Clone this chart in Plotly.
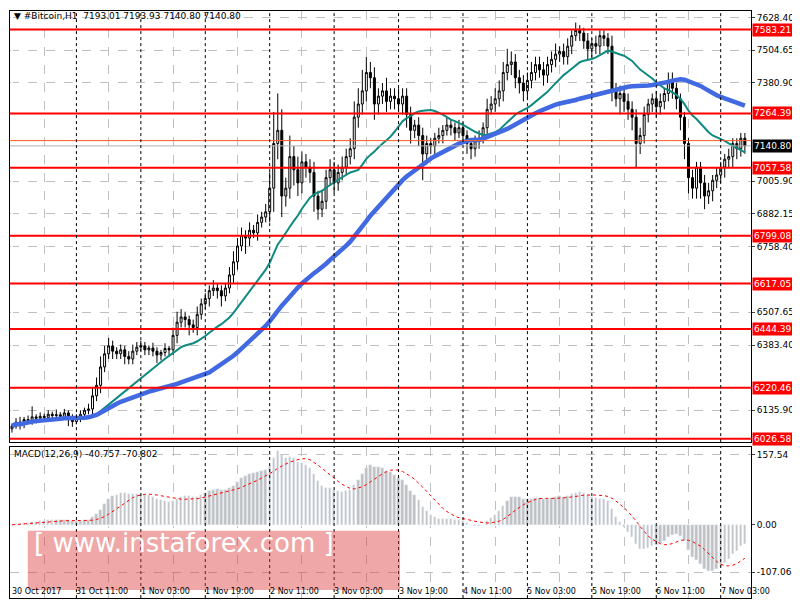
import numpy as np
import pandas as pd
import plotly.graph_objects as go
from plotly.subplots import make_subplots

# hourly closes, 30 Oct 2017 19:00 onwards
closes = [
    6075, 6090, 6082, 6100, 6095, 6110, 6105, 6112,
    6108, 6120, 6115, 6118, 6112, 6125, 6100, 6092,
    6110, 6120, 6135, 6140, 6190, 6230, 6300, 6350,
    6380, 6360, 6350, 6365, 6340, 6330, 6360, 6375,
    6380, 6365, 6372, 6360, 6345, 6355, 6370, 6365,
    6420, 6470, 6490, 6480, 6460, 6450, 6500, 6540,
    6560, 6590, 6600, 6590, 6570, 6600, 6650, 6700,
    6760, 6800, 6790, 6820, 6810, 6850, 6870, 6890,
    6980, 7150, 7200, 6950, 6980, 7100, 7050, 7000,
    7080, 7060, 7040, 6950, 6900, 6930, 7020, 7050,
    7000, 7040, 7060, 7100, 7130, 7250, 7300, 7350,
    7420, 7400, 7300, 7330, 7350, 7310, 7330, 7320,
    7300, 7330, 7260, 7200, 7220, 7180, 7110, 7150,
    7140, 7170, 7180, 7200, 7220, 7210, 7190, 7210,
    7180, 7150, 7130, 7160, 7170, 7210, 7280, 7300,
    7320, 7350, 7420, 7450, 7460, 7400, 7380, 7350,
    7390, 7420, 7450, 7430, 7410, 7450, 7470, 7490,
    7500, 7480, 7520, 7560, 7580, 7570, 7540, 7510,
    7530, 7520, 7560, 7550, 7520, 7350, 7320, 7340,
    7310, 7280, 7250, 7150, 7180, 7260, 7300, 7320,
    7290, 7310, 7340, 7390, 7360, 7320, 7250, 7150,
    7020, 6980, 7060, 7000, 6950, 6970, 7010, 7030,
    7060, 7090, 7100, 7150, 7130, 7170, 7140.8,
]
wick_up = [
    10, 15, 20, 10, 15, 40, 10, 15,
    10, 15, 10, 20, 10, 15, 10, 20,
    10, 15, 10, 20, 30, 30, 40, 30,
    30, 20, 15, 20, 15, 20, 25, 20,
    20, 15, 10, 20, 15, 10, 20, 10,
    30, 40, 30, 20, 15, 20, 30, 20,
    20, 20, 30, 15, 20, 20, 30, 40,
    30, 30, 20, 30, 20, 30, 20, 30,
    60, 120, 140, 80, 40, 80, 40, 50,
    40, 30, 30, 40, 20, 40, 30, 40,
    30, 30, 40, 30, 40, 60, 60, 80,
    60, 40, 40, 30, 30, 50, 30, 30,
    40, 30, 30, 30, 20, 30, 30, 30,
    20, 20, 30, 20, 30, 20, 20, 30,
    20, 20, 20, 20, 30, 20, 40, 30,
    40, 40, 40, 60, 40, 30, 30, 30,
    30, 40, 30, 30, 30, 30, 30, 40,
    20, 30, 30, 20, 30, 20, 20, 30,
    20, 30, 20, 20, 20, 40, 30, 30,
    20, 30, 30, 30, 30, 30, 20, 20,
    30, 30, 20, 30, 30, 20, 20, 20,
    20, 30, 20, 20, 30, 30, 20, 30,
    20, 20, 30, 20, 20, 20, 20,
]
wick_dn = [
    15, 10, 20, 15, 10, 15, 20, 10,
    15, 10, 20, 10, 15, 10, 25, 20,
    10, 20, 10, 15, 20, 20, 30, 20,
    20, 30, 20, 20, 30, 20, 20, 15,
    15, 20, 20, 20, 30, 20, 15, 20,
    20, 30, 20, 30, 40, 20, 30, 20,
    20, 30, 20, 30, 40, 20, 20, 30,
    30, 20, 60, 30, 20, 30, 20, 20,
    40, 90, 60, 80, 40, 40, 60, 50,
    40, 40, 40, 60, 40, 30, 30, 30,
    40, 30, 30, 30, 30, 40, 40, 40,
    40, 40, 60, 40, 30, 40, 30, 40,
    30, 40, 50, 50, 30, 40, 100, 40,
    30, 30, 20, 30, 20, 30, 30, 20,
    30, 40, 40, 30, 30, 20, 30, 20,
    30, 30, 40, 30, 40, 40, 40, 40,
    30, 30, 30, 30, 40, 30, 30, 30,
    30, 30, 30, 30, 20, 30, 30, 40,
    30, 30, 30, 30, 30, 40, 30, 60,
    40, 40, 50, 90, 40, 30, 30, 30,
    40, 30, 30, 30, 40, 40, 50, 60,
    60, 40, 40, 60, 50, 30, 40, 30,
    30, 40, 30, 40, 40, 30, 30,
]
levels = [7583.21, 7264.39, 7057.58, 6799.08, 6617.05, 6444.39, 6220.46, 6026.58]
price_ticks = [7628.40, 7504.65, 7380.90, 7005.90, 6882.15, 6758.40, 6507.65, 6383.40, 6135.90]
date_labels = ["30 Oct 2017", "31 Oct 11:00", "1 Nov 03:00", "1 Nov 19:00", "2 Nov 11:00",
               "3 Nov 03:00", "3 Nov 19:00", "4 Nov 11:00", "5 Nov 03:00", "5 Nov 19:00",
               "6 Nov 11:00", "7 Nov 03:00"]

c = pd.Series(closes, dtype=float)
o = c.shift(1).fillna(c.iloc[0] - 10)
hi = np.maximum(o, c) + np.array(wick_up)
lo = np.minimum(o, c) - np.array(wick_dn)
x = np.arange(len(c))

ma_fast = c.rolling(20, min_periods=1).mean()
ma_slow = c.rolling(50, min_periods=1).mean()
macd = c.ewm(span=12, adjust=False).mean() - c.ewm(span=26, adjust=False).mean()
signal = macd.rolling(9, min_periods=1).mean()

FONT = "DejaVu Sans"
fig = make_subplots(rows=2, cols=1, shared_xaxes=True, vertical_spacing=0.0)
fig.add_trace(go.Candlestick(x=x, open=o, high=hi, low=lo, close=c,
    increasing=dict(fillcolor="white", line=dict(color="black", width=1)),
    decreasing=dict(fillcolor="black", line=dict(color="black", width=1)),
    whiskerwidth=0, showlegend=False), row=1, col=1)
fig.add_trace(go.Scatter(x=x, y=ma_fast, mode="lines", line=dict(color="#0e8a80", width=2)), row=1, col=1)
fig.add_trace(go.Scatter(x=x, y=ma_slow, mode="lines", line=dict(color="#4169e1", width=4.5)), row=1, col=1)
fig.add_trace(go.Bar(x=x, y=macd, marker_color="#c0c0c0", width=0.6), row=2, col=1)
fig.add_trace(go.Scatter(x=x, y=signal, mode="lines", line=dict(color="red", width=1, dash="dot")), row=2, col=1)

for lv in levels:
    fig.add_hline(y=lv, line=dict(color="red", width=2), row=1, col=1)
    fig.add_annotation(x=0.94, xref="paper", y=lv, yref="y", text="%.2f" % lv, showarrow=False,
                       xanchor="left", bgcolor="red", font=dict(color="white", size=9), borderpad=1)
fig.add_hline(y=7160.9, line=dict(color="#ff5a1f", width=1), row=1, col=1)
fig.add_hline(y=7140.8, line=dict(color="#b0b0b0", width=1), row=1, col=1)
fig.add_annotation(x=0.94, xref="paper", y=7140.8, yref="y", text="7140.80", showarrow=False,
                   xanchor="left", bgcolor="black", font=dict(color="white", size=9), borderpad=1)

for i, lab in enumerate(date_labels):
    if i > 0:
        fig.add_vline(x=i * 16, line=dict(color="black", width=1, dash="dot"))
    fig.add_annotation(x=i * 16 - 0.5, xref="x", y=0.003, yref="paper", text=lab,
                       showarrow=False, xanchor="left", yanchor="bottom",
                       font=dict(size=8, color="black"))

fig.add_annotation(x=0.005, xref="paper", y=0.998, yref="paper", xanchor="left", yanchor="top",
                   text="▼ #Bitcoin,H1  7193.01 7193.93 7140.80 7140.80", showarrow=False,
                   font=dict(size=9, color="black"))
fig.add_annotation(x=0.005, xref="paper", y=0.258, yref="paper", xanchor="left", yanchor="top",
                   text="MACD(12,26,9) -40.757 -70.802", showarrow=False, font=dict(size=9, color="black"))
fig.add_shape(type="rect", xref="paper", yref="paper", x0=0.025, x1=0.495, y0=0.017, y1=0.117,
              fillcolor="rgba(220,60,60,0.45)", line_width=0)
fig.add_annotation(x=0.03, xref="paper", y=0.067, yref="paper", xanchor="left",
                   text="[ www.instaforex.com ]", showarrow=False,
                   font=dict(size=26, color="white", family=FONT))

grid = dict(showgrid=True, gridcolor="#c0c0c0", griddash="dash", gridwidth=1)
fig.update_xaxes(range=[-0.5, 183.5], tickvals=list(range(8, 184, 16)), showticklabels=False,
                 domain=[0.0025, 0.938], showline=True, linecolor="black", mirror=True, **grid)
fig.update_yaxes(side="right", ticks="outside", ticklen=3, showline=True, linecolor="black", mirror=True,
                 tickfont=dict(size=9, color="black"), **grid)
fig.update_yaxes(range=[6014, 7654], tickvals=price_ticks, ticktext=["%.2f" % v for v in price_ticks],
                 domain=[0.2667, 0.995], row=1, col=1)
fig.update_yaxes(range=[-165, 175], tickvals=[157.54, 0, -107.064],
                 ticktext=["157.54", "0.00", "-107.064"], domain=[0.0033, 0.2583], row=2, col=1)
fig.update_layout(width=792, height=592, margin=dict(l=0, r=0, t=0, b=0), showlegend=False,
                  paper_bgcolor="white", plot_bgcolor="white", bargap=0,
                  font=dict(family=FONT), xaxis_rangeslider_visible=False)
fig.write_html("out.html")
